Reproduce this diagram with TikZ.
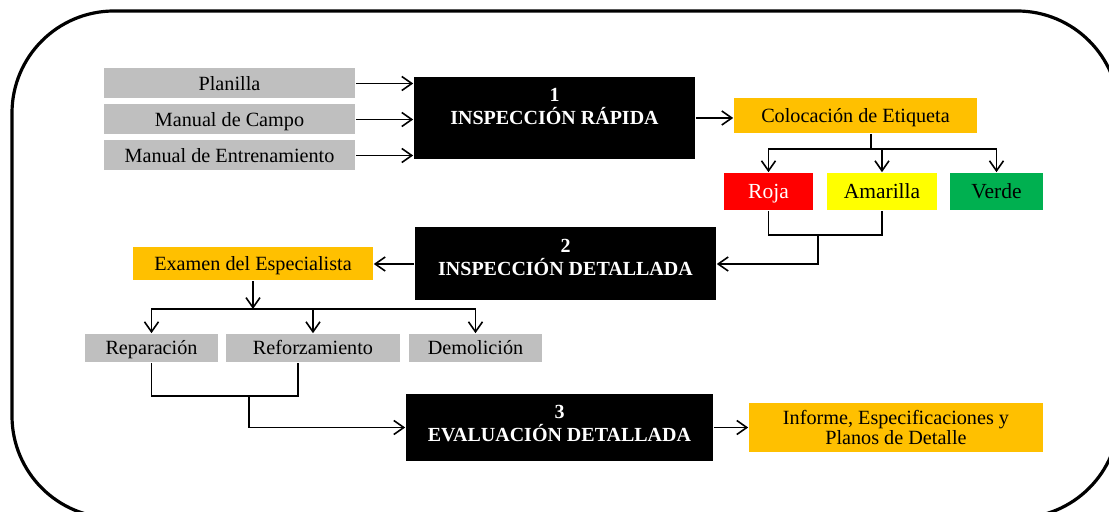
\documentclass[tikz,border=0pt]{standalone}
\usepackage{fontspec}
\setmainfont{Liberation Serif}
\usetikzlibrary{arrows.meta,positioning}

\definecolor{gris}{HTML}{BFBFBF}
\definecolor{naranja}{HTML}{FFC000}
\definecolor{rojo}{HTML}{FF0000}
\definecolor{amarillo}{HTML}{FFFF00}
\definecolor{verdeok}{HTML}{00B050}

\newcommand{\padbelow}[1]{\rule[-#1]{0pt}{#1}}

\tikzset{
	basebox/.style={rectangle,inner sep=0pt,font=\fontsize{10.1}{11}\selectfont},
	oneline/.style={basebox,text height=7.8pt,text depth=1.2pt},
	inbox/.style={oneline,fill=gris,minimum width=125.5pt,minimum height=15pt},
	stagebox/.style={basebox,fill=black,text=white,align=center,
		font=\fontsize{10}{11.5}\selectfont\bfseries},
	notebox/.style={oneline,fill=naranja},
	flagbox/.style={oneline,minimum height=18.5pt,font=\fontsize{10.75}{12}\selectfont},
	optbox/.style={oneline,fill=gris,minimum height=14pt},
}

\begin{document}
\begin{tikzpicture}[x=0.5pt,y=-0.5pt,>={Straight Barb[length=5pt,width=7pt]},
				line width=0.8pt,
				node distance=18pt,on grid
			]
			\useasboundingbox (0,0) rectangle (1109,512);
			\draw[line width=1.6pt,rounded corners=51pt] (12,11) rectangle (1119,518);

			\node[inbox] (plan) at (229.5,83.5) {Planilla};
			\node[inbox] (campo) [below=of plan] {Manual de Campo};
			\node[inbox] (entren) [below=of campo] {Manual de Entrenamiento};
			\node[stagebox,minimum width=140.5pt,minimum height=41pt] (insp1) at (554.5,118)
				{1\\INSPECCIÓN RÁPIDA\padbelow{12pt}};
			\node[notebox,minimum width=121.5pt,minimum height=17.5pt] (etiq) at (855.5,115.5)
				{Colocación de Etiqueta};
			\node[flagbox,fill=rojo,text=white,minimum width=44.5pt] (roja) at (768.5,191.5) {Roja};
			\node[flagbox,fill=amarillo,minimum width=55pt] (amar) [right=56.75pt of roja] {Amarilla};
			\node[flagbox,fill=verdeok,minimum width=46.5pt] (verde) [right=57.25pt of amar] {Verde};
			\node[stagebox,minimum width=150.5pt,minimum height=36.5pt] (insp2) at (565.5,264)
				{2\\INSPECCIÓN DETALLADA\padbelow{7pt}};
			\node[notebox,minimum width=120pt,minimum height=16.5pt] (exam) at (253,264)
				{Examen del Especialista};
			\node[optbox,minimum width=66.5pt] (repar) at (151.5,348) {Reparación};
			\node[optbox,minimum width=87pt] (refor) [right=80.75pt of repar] {Reforzamiento};
			\node[optbox,minimum width=66.5pt] (demol) [right=81.25pt of refor] {Demolición};
			\node[stagebox,minimum width=153.5pt,minimum height=33.5pt] (insp3) at (559.5,427.5)
				{3\\EVALUACIÓN DETALLADA\padbelow{4pt}};
			\node[basebox,fill=naranja,align=center,minimum width=147pt,minimum height=24.5pt,
				font=\fontsize{10.1}{10}\selectfont] (informe) at (896,427.5)
				{Informe, Especificaciones y\\Planos de Detalle};

			% puntos de reparto
			\coordinate (split1) at (871,149);
			\coordinate (join1) at (818,235);
			\coordinate (split2) at (253,309);
			\coordinate (join2) at (249,396);

			\path[->]
				(plan.east) edge (plan.east -| insp1.west)
				(campo.east) edge (campo.east -| insp1.west)
				(entren.east) edge (entren.east -| insp1.west)
				(insp1.east) edge (insp1.east -| etiq.west)
				(insp2.west) edge (exam.east)
				(exam.south) edge (split2)
				(insp3.east) edge (informe.west)
			;
			\draw (etiq.south -| split1) -- (split1);
			\draw[->] (split1) -| (roja);
			\draw[->] (split1) -| (amar);
			\draw[->] (split1) -| (verde);
			\draw (roja.south) |- (join1) -| (amar.south);
			\draw[->] (join1) |- (insp2.east);
			\draw[->] (split2) -| (repar);
			\draw[->] (split2) -| (refor);
			\draw[->] (split2) -| (demol);
			\draw (repar.south) |- (join2) -| ([xshift=-7.5pt]refor.south);
			\draw[->] (join2) |- (insp3.west);
		\end{tikzpicture}
\end{document}
